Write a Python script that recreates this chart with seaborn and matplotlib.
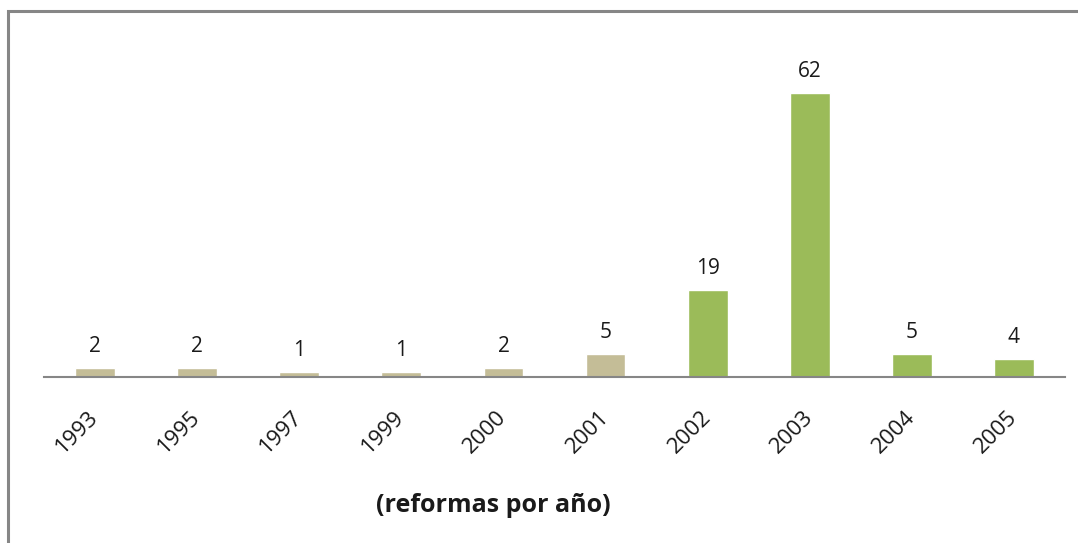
"Bar chart of reforms per year"
import pandas as pd
import matplotlib as mpl
from matplotlib import pyplot as plt
import seaborn as sns

# data
years = ["1993", "1995", "1997", "1999", "2000", "2001", "2002", "2003", "2004", "2005"]
reformas = [2, 2, 1, 1, 2, 5, 19, 62, 5, 4]
periodo = ["antes", "antes", "antes", "antes", "antes", "antes",
           "despues", "despues", "despues", "despues"]
colores = {"antes": "#C4BD97", "despues": "#9BBB59"}

df = pd.DataFrame({"year": years, "reformas": reformas, "periodo": periodo})

sns.set_theme(style="white")
plt.rcParams['font.family'] = ['Open Sans', 'DejaVu Sans']

fig = plt.figure(figsize=(10.78, 5.43), dpi=100)
ax = fig.add_axes([44 / 1078, 0.3057, 1021 / 1078, 0.590])

sns.barplot(data=df, x="year", y="reformas", hue="periodo", order=years,
            palette=colores, dodge=False, width=0.39, legend=False,
            saturation=1, ax=ax)

for cont in ax.containers:
    ax.bar_label(cont, padding=8, fontsize=15, color="#1a1a1a")

ax.set_ylim(0, 70)
ax.set_xlim(-0.5, len(years) - 0.5)
ax.set_yticks([])
ax.set_ylabel("")
ax.set_xlabel("")
for side in ["top", "right", "left"]:
    ax.spines[side].set_visible(False)
ax.spines["bottom"].set_color("#868686")
ax.spines["bottom"].set_linewidth(1.5)

ax.tick_params(axis="x", length=0, pad=27, labelsize=16, labelcolor="#1a1a1a")
for lbl in ax.get_xticklabels():
    lbl.set_rotation(45)
    lbl.set_rotation_mode("anchor")
    lbl.set_ha("right")
    lbl.set_va("center")

fig.text(493 / 1078, 1 - 505 / 543, "(reformas por año)", ha="center", va="center",
         fontsize=18, fontweight="bold", color="#1a1a1a")

# border of the chart area (right and bottom edges fall outside the crop)
border = mpl.patches.Rectangle((8 / 1078, -0.1), 1.2, 1 - 11 / 543 + 0.1,
                               transform=fig.transFigure, fill=False,
                               edgecolor="#868686", linewidth=2.2, clip_on=False)
fig.patches.append(border)

plt.savefig("out.png", dpi=100)
